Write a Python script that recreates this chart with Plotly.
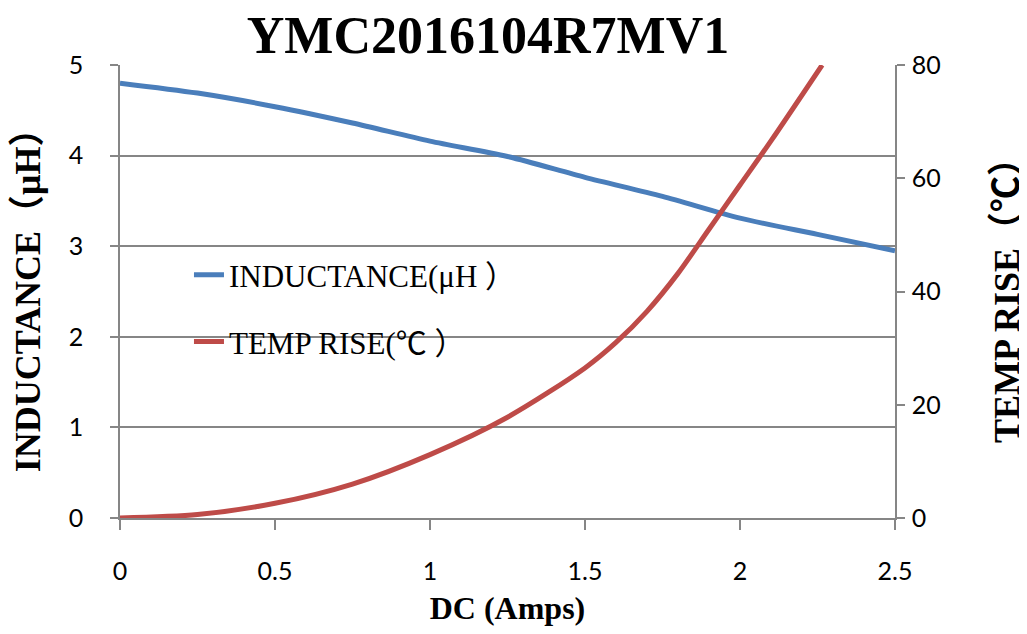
import plotly.graph_objects as go

# Data
ind_x = [0, 0.25, 0.5, 0.75, 1.0, 1.25, 1.5, 1.75, 2.0, 2.25, 2.5]
ind_y = [4.80, 4.69, 4.54, 4.36, 4.16, 3.99, 3.76, 3.55, 3.31, 3.13, 2.95]

temp_x = [0, 0.25, 0.5, 0.75, 1.0, 1.25, 1.5, 1.6, 1.7, 1.8, 1.9, 2.0, 2.1, 2.265]
temp_y = [0, 0.6, 2.6, 6.0, 11.2, 17.8, 26.5, 31.0, 36.5, 43.2, 51.0, 58.8, 66.6, 80]

x_ticks = [0, 0.5, 1, 1.5, 2, 2.5]
x_ticklabels = ["0", "0.5", "1", "1.5", "2", "2.5"]
left_ticks = [0, 1, 2, 3, 4, 5]
right_ticks = [0, 20, 40, 60, 80]

title_text = "YMC2016104R7MV1"
x_title = "DC (Amps)"
left_title = "INDUCTANCE（μH）"
right_title = "TEMP RISE（℃）"
name_ind = "INDUCTANCE(μH ）"
name_temp = "TEMP RISE(℃ ）"

BLUE = "#4A7EBB"
RED = "#BE4B48"
GRID = "#868686"
SERIF = "Liberation Serif, Times New Roman, Noto Sans CJK SC, serif"
TICKF = "Lato, Liberation Sans, sans-serif"

fig = go.Figure()
fig.add_trace(go.Scatter(x=ind_x, y=ind_y, mode="lines", name=name_ind,
                         line=dict(color=BLUE, width=5, shape="spline", smoothing=0.8),
                         legend="legend"))
fig.add_trace(go.Scatter(x=temp_x, y=temp_y, mode="lines", name=name_temp, yaxis="y2",
                         line=dict(color=RED, width=5, shape="spline", smoothing=0.8),
                         legend="legend2"))

fig.update_layout(
    width=1019, height=618,
    margin=dict(l=112, r=132, t=57, b=108),
    paper_bgcolor="white", plot_bgcolor="white",
    font=dict(family=SERIF, color="black", size=24),
    title=dict(text="<b>" + title_text + "</b>", x=480 / 1019, xanchor="center",
               y=1 - 27 / 618, yanchor="middle",
               font=dict(family=SERIF, size=52, color="black")),
    xaxis=dict(range=[0, 2.5], tickvals=x_ticks, ticktext=x_ticklabels, automargin=False,
               showgrid=False, zeroline=False, showline=True, linecolor=GRID, linewidth=1.5,
               ticks="outside", ticklen=10, tickcolor=GRID, tickwidth=1.5,
               ticklabelstandoff=20, tickfont=dict(family=TICKF, size=25),
               title=dict(text="<b>" + x_title + "</b>", font=dict(family=SERIF, size=32), standoff=15)),
    yaxis=dict(range=[0, 5], tickvals=left_ticks, showgrid=True, gridcolor=GRID, gridwidth=1.5,
               zeroline=False, showline=True, linecolor=GRID, linewidth=1.5, automargin=False,
               ticks="outside", ticklen=8, tickcolor=GRID, tickwidth=1.5,
               ticklabelstandoff=22, tickfont=dict(family=TICKF, size=25),
               title=dict(text="<b>" + left_title + "</b>", font=dict(family=SERIF, size=36), standoff=24)),
    yaxis2=dict(range=[0, 80], tickvals=right_ticks, overlaying="y", side="right", automargin=False,
                showgrid=False, zeroline=False, showline=True, linecolor=GRID, linewidth=1.5,
                ticks="outside", ticklen=8, tickcolor=GRID, tickwidth=1.5,
                ticklabelstandoff=2, tickfont=dict(family=TICKF, size=25),
                title=dict(text="<b>" + right_title + "</b>", font=dict(family=SERIF, size=36), standoff=58)),
    legend=dict(x=0.089, y=0.536, xanchor="left", yanchor="middle",
                bgcolor="rgba(0,0,0,0)", font=dict(family=SERIF, size=31)),
    legend2=dict(x=0.089, y=0.389, xanchor="left", yanchor="middle",
                 bgcolor="rgba(0,0,0,0)", font=dict(family=SERIF, size=31)),
    showlegend=True,
)

fig.write_html("out.html")
